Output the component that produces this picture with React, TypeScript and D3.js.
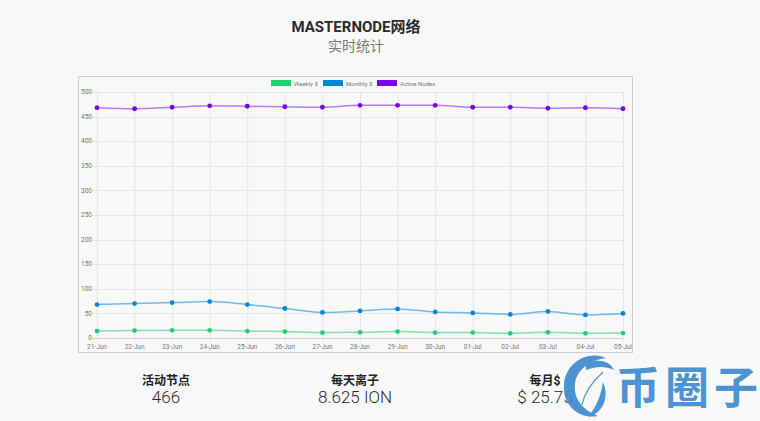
import React, { useEffect, useRef } from 'react';
import * as d3 from 'd3';

// chart values
const dates = ['21-Jun', '22-Jun', '23-Jun', '24-Jun', '25-Jun', '26-Jun', '27-Jun', '28-Jun',
  '29-Jun', '30-Jun', '01-Jul', '02-Jul', '03-Jul', '04-Jul', '05-Jul'];
const weekly = [14, 15, 15.5, 15.5, 14, 13, 11, 11.5, 13, 11, 11, 9.5, 11.5, 9.5, 10];
const monthly = [68, 70, 72, 74, 68, 60, 52, 55, 59, 53, 51, 48, 54, 47, 50];
const nodes = [468, 466, 469, 472, 471, 470, 469, 473, 473, 473, 469, 469, 467, 468, 466];
const yTicks = [0, 50, 100, 150, 200, 250, 300, 350, 400, 450, 500];

const seriesList = [
  { label: 'Weekly $', color: '#20d070', line: 'rgba(32,208,112,0.55)', data: weekly },
  { label: 'Monthly $', color: '#0088d8', line: 'rgba(0,136,216,0.55)', data: monthly },
  { label: 'Active Nodes', color: '#7a00e6', line: 'rgba(122,0,230,0.5)', data: nodes },
];

const stats = [
  { title: '活动节点', value: '466', x: 166 },
  { title: '每天离子', value: '8.625 ION', x: 355 },
  { title: '每月$', value: '$ 25.75', x: 545 },
];

const W = 760;
const H = 421;
const font = 'Roboto, "Noto Sans", "Noto Sans CJK SC", sans-serif';

const App = () => {
  const ref = useRef<SVGSVGElement | null>(null);

  useEffect(() => {
    const svg = d3.select(ref.current);
    svg.selectAll('*').remove();

    svg.append('rect').attr('width', W).attr('height', H).attr('fill', '#f8f8f8');

    // --- Titles ---
    svg.append('text')
      .attr('x', 356).attr('y', 32).attr('text-anchor', 'middle')
      .style('font-family', font).style('font-size', '15px').style('font-weight', 'bold')
      .attr('fill', '#2b2b2b').text('MASTERNODE网络');
    svg.append('text')
      .attr('x', 356).attr('y', 51).attr('text-anchor', 'middle')
      .style('font-family', font).style('font-size', '14px')
      .attr('fill', '#7a7a7a').text('实时统计');

    // --- Chart box ---
    svg.append('rect')
      .attr('x', 78.5).attr('y', 76.5).attr('width', 554).attr('height', 276)
      .attr('fill', '#f8f8f8').attr('stroke', '#cfcfcf');

    const x = d3.scalePoint<string>().domain(dates).range([97, 623]);
    const y = d3.scaleLinear().domain([0, 500]).range([338, 92]);

    const g = svg.append('g');
    // grid
    g.selectAll('.vgrid').data(dates).enter().append('line')
      .attr('x1', d => x(d)! + 0.5).attr('x2', d => x(d)! + 0.5)
      .attr('y1', y(500)).attr('y2', y(0) + 4)
      .attr('stroke', '#e6e6e6');
    g.selectAll('.hgrid').data(yTicks).enter().append('line')
      .attr('x1', 92).attr('x2', 623)
      .attr('y1', d => Math.round(y(d)) + 0.5).attr('y2', d => Math.round(y(d)) + 0.5)
      .attr('stroke', d => (d === 0 ? '#d0d0d0' : '#e6e6e6'));

    // tick labels
    g.selectAll('.ylab').data(yTicks).enter().append('text')
      .attr('x', 92).attr('y', d => y(d)).attr('dy', '0.35em').attr('text-anchor', 'end')
      .style('font-family', font).style('font-size', '6.5px').attr('fill', '#777')
      .text(d => d);
    g.selectAll('.xlab').data(dates).enter().append('text')
      .attr('x', d => x(d)!).attr('y', 349).attr('text-anchor', 'middle')
      .style('font-family', font).style('font-size', '6.5px').attr('fill', '#777')
      .text(d => d);

    // legend
    const legendX = [271, 323, 377];
    seriesList.forEach((s, i) => {
      g.append('rect').attr('x', legendX[i]).attr('y', 80).attr('width', 20).attr('height', 6)
        .attr('fill', s.color);
      g.append('text').attr('x', legendX[i] + 23).attr('y', 85.5)
        .style('font-family', font).style('font-size', '6px').attr('fill', '#777')
        .text(s.label);
    });

    // lines + points
    const line = d3.line<number>()
      .x((_, i) => x(dates[i])!)
      .y(d => y(d))
      .curve(d3.curveMonotoneX);

    seriesList.forEach(s => {
      g.append('path').datum(s.data).attr('d', line)
        .attr('fill', 'none').attr('stroke', s.line).attr('stroke-width', 1.5);
      g.selectAll(null).data(s.data).enter().append('circle')
        .attr('cx', (_, i) => x(dates[i])!).attr('cy', d => y(d)).attr('r', 2.4)
        .attr('fill', s.color);
    });

    // --- Stats below ---
    stats.forEach(s => {
      svg.append('text').attr('x', s.x).attr('y', 385).attr('text-anchor', 'middle')
        .style('font-family', font).style('font-size', '12px').style('font-weight', 'bold')
        .attr('fill', '#222').text(s.title);
      svg.append('text').attr('x', s.x).attr('y', 403).attr('text-anchor', 'middle')
        .style('font-family', font).style('font-size', '17px').style('font-weight', 300)
        .attr('fill', '#2a2a2a').text(s.value);
    });

    // --- Watermark ---
    const wm = svg.append('g').attr('fill', '#3d8bd0').attr('opacity', 0.92);
    wm.append('path')
      .attr('d', 'M606,358 C588,350 566,362 564,384 C562,404 578,420 598,416 C582,410 573,398 575,384 C577,368 592,360 606,358 Z');
    wm.append('path')
      .attr('d', 'M586,364 C596,358 610,360 614,370 C606,366 596,366 586,370 Z');
    wm.append('path')
      .attr('d', 'M603,382 C610,398 602,414 588,417 C597,406 601,395 603,382 Z');
    wm.append('path')
      .attr('d', 'M603,372 C592,382 584,394 582,405')
      .attr('fill', 'none').attr('stroke', '#3d8bd0').attr('stroke-width', 1.2);
    wm.append('text').attr('x', 616).attr('y', 404)
      .style('font-family', '"Noto Sans CJK SC", sans-serif').style('font-size', '44px')
      .style('font-weight', 'bold').attr('textLength', 142)
      .text('币圈子');
  }, []);

  return (
    <div style={{ position: 'fixed', left: 0, top: 0, width: W, height: H }}>
      <svg ref={ref} width={W} height={H} style={{ display: 'block' }} />
    </div>
  );
};

export default App;
